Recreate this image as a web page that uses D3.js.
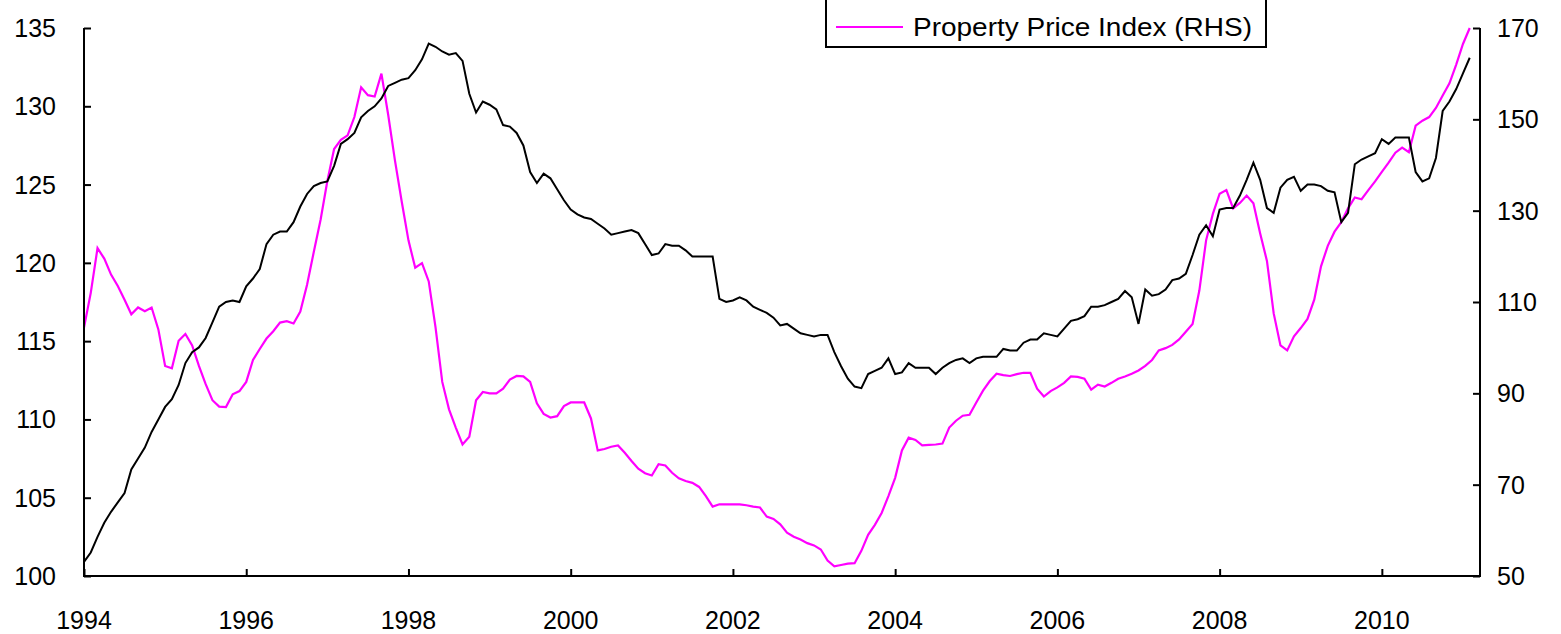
<!DOCTYPE html>
<html>
<head>
<meta charset="utf-8">
<script src="https://cdn.jsdelivr.net/npm/d3@7"></script>
<style>
  html, body { margin: 0; padding: 0; background: #fff; }
  svg { display: block; }
  text { font-family: "Liberation Sans", Arial, sans-serif; fill: #000; }
</style>
</head>
<body>
<div id="chart"></div>
<script>
// ---- Data (monthly, Jan 1994 – Feb 2011) ----
const startYear = 1994;
const xTickYears = [1994, 1996, 1998, 2000, 2002, 2004, 2006, 2008, 2010];
const xTickLabels = ["1994", "1996", "1998", "2000", "2002", "2004", "2006", "2008", "2010"];
const leftTicks = [100, 105, 110, 115, 120, 125, 130, 135];
const rightTicks = [50, 70, 90, 110, 130, 150, 170];
const legendLabel = "Property Price Index (RHS)";

// Black series (left-hand scale)
const lhsSeries = [
  100.9, 101.5, 102.5, 103.4, 104.1, 104.7, 105.3, 106.8, 107.5, 108.2, 109.2, 110.0,
  110.8, 111.3, 112.2, 113.6, 114.3, 114.6, 115.2, 116.2, 117.2, 117.5, 117.6, 117.5,
  118.5, 119.0, 119.6, 121.2, 121.8, 122.0, 122.0, 122.6, 123.6, 124.4, 124.9, 125.1,
  125.2, 126.2, 127.6, 127.9, 128.3, 129.3, 129.7, 130.0, 130.5, 131.3, 131.5, 131.7,
  131.8, 132.3, 133.0, 134.0, 133.8, 133.5, 133.3, 133.4, 132.9, 130.8, 129.6, 130.3,
  130.1, 129.8, 128.8, 128.7, 128.3, 127.5, 125.8, 125.1, 125.7, 125.4, 124.7, 124.0,
  123.4, 123.1, 122.9, 122.8, 122.5, 122.2, 121.8, 121.9, 122.0, 122.1, 121.9, 121.2,
  120.5, 120.6, 121.2, 121.1, 121.1, 120.8, 120.4, 120.4, 120.4, 120.4, 117.7, 117.5,
  117.6, 117.8, 117.6, 117.2, 117.0, 116.8, 116.5, 116.0, 116.1, 115.8, 115.5, 115.4,
  115.3, 115.4, 115.4, 114.3, 113.4, 112.6, 112.1, 112.0, 112.9, 113.1, 113.3, 113.9,
  112.9, 113.0, 113.6, 113.3, 113.3, 113.3, 112.9, 113.3, 113.6, 113.8, 113.9, 113.6,
  113.9, 114.0, 114.0, 114.0, 114.5, 114.4, 114.4, 114.9, 115.1, 115.1, 115.5, 115.4,
  115.3, 115.8, 116.3, 116.4, 116.6, 117.2, 117.2, 117.3, 117.5, 117.7, 118.2, 117.8,
  116.1, 118.3, 117.9, 118.0, 118.3, 118.9, 119.0, 119.3, 120.5, 121.8, 122.4, 121.7,
  123.4, 123.5, 123.5, 124.3, 125.3, 126.4, 125.3, 123.5, 123.2, 124.8, 125.3, 125.5,
  124.6, 125.0, 125.0, 124.9, 124.6, 124.5, 122.6, 123.2, 126.3, 126.6, 126.8, 127.0,
  127.9, 127.6, 128.0, 128.0, 128.0, 125.8, 125.2, 125.4, 126.7, 129.7, 130.3, 131.1,
  132.1, 133.1
];

// Magenta series: Property Price Index (right-hand scale)
const propertyPriceIndex = [
  104.4, 112.0, 121.8, 119.5, 116.0, 113.5, 110.5, 107.3, 108.8, 108.0, 108.8, 104.0,
  96.0, 95.5, 101.5, 103.0, 100.5, 96.0, 92.0, 88.5, 87.1, 87.0, 89.8, 90.5,
  92.5, 97.3, 99.7, 102.0, 103.6, 105.5, 105.8, 105.3, 107.9, 113.8, 121.0, 128.0,
  136.5, 143.5, 145.5, 146.5, 150.5, 157.0, 155.3, 155.0, 160.0, 151.0, 141.0, 132.0,
  123.5, 117.5, 118.5, 114.5, 104.5, 92.5, 86.5, 82.5, 78.8, 80.5, 88.5, 90.3,
  90.0, 90.0, 91.0, 93.0, 93.8, 93.7, 92.5, 87.8, 85.5, 84.7, 85.0, 87.2,
  88.0, 88.0, 88.0, 84.5, 77.5, 77.8, 78.3, 78.6, 77.0, 75.2, 73.5, 72.5,
  72.0, 74.5, 74.2, 72.6, 71.4, 70.8, 70.4, 69.5, 67.5, 65.2, 65.7, 65.7,
  65.7, 65.7, 65.5, 65.2, 65.0, 63.0, 62.5, 61.3, 59.5, 58.6, 58.0, 57.2,
  56.7, 55.8, 53.4, 52.1, 52.4, 52.7, 52.8, 55.5, 59.0, 61.2, 63.8, 67.5,
  71.5, 77.5, 80.3, 79.8, 78.6, 78.7, 78.8, 79.0, 82.5, 84.0, 85.1, 85.3,
  88.0, 90.6, 92.7, 94.3, 94.0, 93.8, 94.2, 94.5, 94.5, 91.0, 89.3, 90.5,
  91.3, 92.3, 93.7, 93.6, 93.2, 90.8, 91.9, 91.5, 92.3, 93.2, 93.7, 94.3,
  95.0, 96.0, 97.3, 99.4, 99.9, 100.6, 101.8, 103.5, 105.2, 112.5, 123.5, 129.3,
  133.7, 134.5, 130.5, 131.7, 133.3, 131.6, 125.0, 119.0, 107.5, 100.5, 99.4, 102.5,
  104.3, 106.3, 110.5, 117.8, 122.3, 125.4, 127.5, 130.5, 132.9, 132.5, 134.5, 136.4,
  138.5, 140.5, 142.7, 143.8, 142.8, 148.6, 149.7, 150.5, 152.5, 155.2, 157.9, 162.0,
  166.5, 170.0
];

// ---- Layout ----
const W = 1561, H = 634;
const plot = { left: 84, right: 1480, top: 28, bottom: 576 };

const svg = d3.select("#chart").append("svg")
  .attr("width", W).attr("height", H);

const x = d3.scaleLinear().domain([1994, 2011.21]).range([plot.left, plot.right]);
const yL = d3.scaleLinear().domain([100, 135]).range([plot.bottom, plot.top]);
const yR = d3.scaleLinear().domain([50, 170]).range([plot.bottom, plot.top]);

const tOf = i => startYear + i / 12;

// ---- Lines ----
const lineL = d3.line().x((d, i) => x(tOf(i))).y(d => yL(d));
const lineR = d3.line().x((d, i) => x(tOf(i))).y(d => yR(d));

svg.append("path").datum(propertyPriceIndex)
  .attr("d", lineR).attr("fill", "none")
  .attr("stroke", "#ff00ff").attr("stroke-width", 2.2)
  .attr("stroke-linejoin", "miter");

svg.append("path").datum(lhsSeries)
  .attr("d", lineL).attr("fill", "none")
  .attr("stroke", "#000").attr("stroke-width", 2)
  .attr("stroke-linejoin", "miter");

// ---- Axes ----
const fontSize = 25;
const axisColor = "#000";

// Left axis (ticks pointing inward)
const gL = svg.append("g").attr("transform", `translate(${plot.left},0)`)
  .call(d3.axisRight(yL).tickValues(leftTicks).tickSize(7).tickFormat(""));
gL.select(".domain").attr("d", `M0,${plot.top}V${plot.bottom}`).attr("stroke", axisColor).attr("stroke-width", 2);
gL.selectAll(".tick line").attr("stroke", axisColor).attr("stroke-width", 2);
svg.append("g").selectAll("text").data(leftTicks).join("text")
  .attr("x", 56).attr("y", d => yL(d)).attr("dy", "0.36em")
  .attr("text-anchor", "end").attr("font-size", fontSize)
  .text(d => d);

// Right axis (ticks pointing inward)
const gR = svg.append("g").attr("transform", `translate(${plot.right},0)`)
  .call(d3.axisLeft(yR).tickValues(rightTicks).tickSize(7).tickFormat(""));
gR.select(".domain").attr("d", `M0,${plot.top}V${plot.bottom}`).attr("stroke", axisColor).attr("stroke-width", 2);
gR.selectAll(".tick line").attr("stroke", axisColor).attr("stroke-width", 2);
svg.append("g").selectAll("text").data(rightTicks).join("text")
  .attr("x", 1497).attr("y", d => yR(d)).attr("dy", "0.36em")
  .attr("text-anchor", "start").attr("font-size", fontSize)
  .text(d => d);

// Bottom axis (ticks pointing up)
const gB = svg.append("g").attr("transform", `translate(0,${plot.bottom})`)
  .call(d3.axisTop(x).tickValues(xTickYears).tickSize(7).tickFormat(""));
gB.select(".domain").attr("d", `M${plot.left - 1},0H${plot.right + 1}`).attr("stroke", axisColor).attr("stroke-width", 2);
gB.selectAll(".tick line").attr("stroke", axisColor).attr("stroke-width", 2);
svg.append("g").selectAll("text").data(xTickYears).join("text")
  .attr("x", d => x(d)).attr("y", 629)
  .attr("text-anchor", "middle").attr("font-size", fontSize)
  .text((d, i) => xTickLabels[i]);

// ---- Legend (top cut off, as in the reference) ----
const lg = svg.append("g");
lg.append("rect")
  .attr("x", 826).attr("y", -40).attr("width", 440).attr("height", 87)
  .attr("fill", "#fff").attr("stroke", "#000").attr("stroke-width", 2);
lg.append("line")
  .attr("x1", 836).attr("x2", 903).attr("y1", 27).attr("y2", 27)
  .attr("stroke", "#ff00ff").attr("stroke-width", 2);
lg.append("text")
  .attr("x", 913).attr("y", 36)
  .attr("font-size", fontSize)
  .attr("textLength", 339).attr("lengthAdjust", "spacingAndGlyphs")
  .text(legendLabel);
</script>
</body>
</html>
